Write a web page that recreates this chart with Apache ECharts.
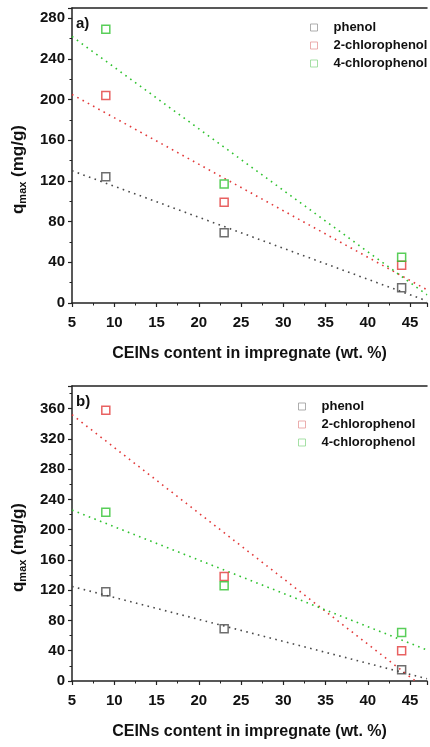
<!DOCTYPE html>
<html><head><meta charset="utf-8">
<script src="https://cdn.jsdelivr.net/npm/echarts@6/dist/echarts.min.js"></script>
<style>html,body{margin:0;padding:0;background:#fff}#c{width:430px;height:747px}</style>
</head><body><div id="c"></div>
<script>
// Data
var xCats = [9, 23, 44];
var seriesNames = ['phenol', '2-chlorophenol', '4-chlorophenol'];
// Panel a
var aPhenol = [124, 69, 15];
var aCP2 = [204, 99, 37];
var aCP4 = [269, 117, 45];
var aFitX = [5, 47];
var aFitPhenol = [130, 2];
var aFitCP2 = [205, 13];
var aFitCP4 = [262, 8];
// Panel b
var bPhenol = [118, 69, 15];
var bCP2 = [358, 138, 40];
var bCP4 = [223, 126, 64];
var bFitX = [5, 47];
var bFitPhenol = [125, 3];
var bFitCP2 = [352, -12];
var bFitCP4 = [226, 41];
var yTicksA = [0, 40, 80, 120, 160, 200, 240, 280];
var yTicksB = [0, 40, 80, 120, 160, 200, 240, 280, 320, 360];
var xTicks = [5, 10, 15, 20, 25, 30, 35, 40, 45];

var colors = ['#4a4a4a', '#e23a3a', '#2fc22f'];
var legendColors = ['#9a9a9a', '#e69a9a', '#8ed88e'];
var FONT = '"Liberation Sans", Arial, sans-serif';

function pts(xs, ys) { return xs.map(function (x, i) { return [x, ys[i]]; }); }

var chart = echarts.init(document.getElementById('c'));

function xAxisDef(gi) {
  return {
    type: 'value', gridIndex: gi, min: 5, max: 47, interval: 5,
    name: 'CEINs content in impregnate (wt. %)', nameLocation: 'middle', nameGap: 43,
    nameTextStyle: { fontFamily: FONT, fontWeight: 'bold', fontSize: 16, color: '#111' },
    axisLine: { lineStyle: { color: '#222', width: 1.5 } },
    axisTick: { show: true, inside: false, length: 4, lineStyle: { color: '#222', width: 1.2 } },
    minorTick: { show: true, splitNumber: 2, length: 2.5, lineStyle: { color: '#222', width: 1 } },
    splitLine: { show: false },
    axisLabel: {
      margin: 12, fontFamily: FONT, fontWeight: 'bold', fontSize: 15, color: '#111',
      formatter: function (v) { return xTicks.indexOf(v) >= 0 ? String(v) : ''; }
    }
  };
}
function topAxisDef(gi) {
  return {
    type: 'value', gridIndex: gi, min: 5, max: 47, position: 'top',
    axisLine: { lineStyle: { color: '#222', width: 1.5 } },
    axisTick: { show: false }, axisLabel: { show: false }, splitLine: { show: false }
  };
}
function yAxisDef(gi, max, ticks) {
  return {
    type: 'value', gridIndex: gi, min: 0, max: max, interval: 40,
    name: 'q{sub|max} (mg/g)', nameLocation: 'middle', nameGap: 44, nameRotate: 90,
    nameTextStyle: {
      fontFamily: FONT, fontWeight: 'bold', fontSize: 17, color: '#111', padding: [0, 28, 0, 0],
      rich: { sub: { fontFamily: FONT, fontWeight: 'bold', fontSize: 11, color: '#111', verticalAlign: 'bottom', padding: [8, 0, 0, 0] } }
    },
    axisLine: { show: true, lineStyle: { color: '#222', width: 1.5 } },
    axisTick: { show: true, inside: false, length: 4, lineStyle: { color: '#222', width: 1.2 } },
    minorTick: { show: true, splitNumber: 2, length: 2.5, lineStyle: { color: '#222', width: 1 } },
    splitLine: { show: false },
    axisLabel: {
      margin: 7, fontFamily: FONT, fontWeight: 'bold', fontSize: 15, color: '#111',
      formatter: function (v) { return ticks.indexOf(v) >= 0 ? String(v) : ''; }
    }
  };
}
function scatter(name, gi, ys, ci) {
  return {
    type: 'scatter', name: name, xAxisIndex: gi * 2, yAxisIndex: gi,
    data: pts(xCats, ys), symbol: 'rect', symbolSize: 8, z: 5,
    itemStyle: { color: 'rgba(255,255,255,0)', borderColor: colors[ci], borderWidth: 1.5 }
  };
}
function fit(gi, xs, ys, ci) {
  return {
    type: 'line', name: 'fit' + gi + ci, xAxisIndex: gi * 2, yAxisIndex: gi,
    data: pts(xs, ys), showSymbol: false, symbol: 'none', silent: true, clip: true,
    lineStyle: { color: colors[ci], width: 1.6, type: [1.6, 4.4] }
  };
}
function legendDef(left, top) {
  return {
    orient: 'vertical', left: left, top: top, padding: 0, itemWidth: 7, itemHeight: 7, itemGap: 5,
    textStyle: { fontFamily: FONT, fontWeight: 'bold', fontSize: 13, color: '#111', padding: [0, 0, 0, 11] },
    data: seriesNames.map(function (n, i) {
      return { name: n, icon: 'rect', itemStyle: { color: 'rgba(255,255,255,0)', borderColor: legendColors[i], borderWidth: 1 } };
    })
  };
}

chart.setOption({
  animation: false,
  backgroundColor: '#fff',
  title: [
    { text: 'a)', left: 76, top: 16, textStyle: { fontFamily: FONT, fontWeight: 'bold', fontSize: 15, color: '#111' }, padding: 0 },
    { text: 'b)', left: 76, top: 394, textStyle: { fontFamily: FONT, fontWeight: 'bold', fontSize: 15, color: '#111' }, padding: 0 }
  ],
  legend: [legendDef(310, 21), legendDef(298, 400)],
  grid: [
    { left: 72, top: 8, width: 358, height: 295 },
    { left: 72, top: 386, width: 358, height: 295 }
  ],
  xAxis: [xAxisDef(0), topAxisDef(0), xAxisDef(1), topAxisDef(1)],
  yAxis: [yAxisDef(0, 290, yTicksA), yAxisDef(1, 390, yTicksB)],
  series: [
    fit(0, aFitX, aFitPhenol, 0), fit(0, aFitX, aFitCP2, 1), fit(0, aFitX, aFitCP4, 2),
    scatter(seriesNames[0], 0, aPhenol, 0), scatter(seriesNames[1], 0, aCP2, 1), scatter(seriesNames[2], 0, aCP4, 2),
    fit(1, bFitX, bFitPhenol, 0), fit(1, bFitX, bFitCP2, 1), fit(1, bFitX, bFitCP4, 2),
    scatter(seriesNames[0], 1, bPhenol, 0), scatter(seriesNames[1], 1, bCP2, 1), scatter(seriesNames[2], 1, bCP4, 2)
  ]
});
</script></body></html>
